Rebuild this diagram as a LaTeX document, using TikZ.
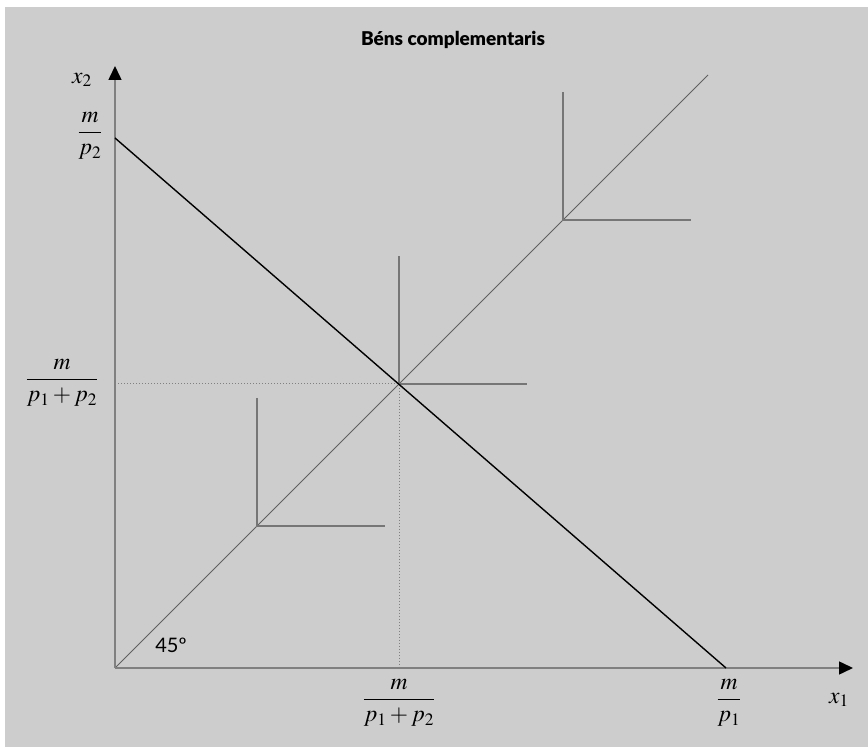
\documentclass[tikz,border=0pt]{standalone}
\usepackage{amsmath}
\usepackage{mathptmx}
\usepackage[no-math]{fontspec}
\setmainfont{Lato}
\newfontfamily\titolfont{Lato Black}
\usepackage{tikz}
\usetikzlibrary{arrows.meta}
\definecolor{fons}{RGB}{205,205,205}
\definecolor{eix}{RGB}{128,128,128}
\definecolor{corba}{RGB}{118,118,118}
\definecolor{diag}{RGB}{96,96,96}
\newcommand{\mida}{\fontsize{23.5}{28}\selectfont}

\begin{document}
\begin{tikzpicture}[x=1pt,y=1pt]
  % --- Fons ---
  \useasboundingbox (0,0) rectangle (868,747);
  \fill[fons] (5,0) rectangle (868,740);

  % --- Punts clau ---
  \coordinate (O)    at (115,79);
  \coordinate (Ytip) at (115,681);
  \coordinate (Xtip) at (853,79);
  \coordinate (A)    at (115,609);   % m/p2
  \coordinate (B)    at (726,79);    % m/p1
  \coordinate (E)    at (399,363);   % equilibri
  \coordinate (Ey)   at (115,363);
  \coordinate (Ex)   at (399,79);
  \coordinate (D)    at (708,672);   % final de la diagonal

  % --- Línies de punts cap als eixos ---
  \draw[eix,dotted,line width=1pt] (Ey) -- (E) -- (Ex);

  % --- Diagonal de 45 graus ---
  \draw[diag,line width=0.9pt] (O) -- (D);

  % --- Corbes d'indiferència (complementaris perfectes) ---
  \foreach \d/\nom in {142/c1,284/c2,448/c3}{%
    \coordinate (\nom) at ({115+\d},{79+\d});
    \draw[corba,line width=1.3pt] (\nom) ++(0,128) -- (\nom) -- ++(128,0);
  }

  % --- Eixos ---
  \draw[eix,line width=1.5pt,-{Triangle[length=14pt,width=13pt,color=black]}] (O) -- (Ytip);
  \draw[eix,line width=1.5pt,-{Triangle[length=14pt,width=13pt,color=black]}] (O) -- (Xtip);

  % --- Recta de balanç ---
  \draw[black,line width=1.4pt] (A) -- (B);

  % --- Etiquetes ---
  \node[font=\fontsize{19}{23}\selectfont\titolfont] (titol) at (453,707) {Béns complementaris};
  \node[font=\mida] (lx2) at (82,667) {$x_2$};
  \node[font=\mida] (lx1) at (839,47) {$x_1$};
  \node[font=\mida] (lA) at (90,611) {$\dfrac{m}{p_2}$};
  \node[font=\mida] (lEy) at (62,364) {$\dfrac{m}{p_1+p_2}$};
  \node[font=\mida] (lEx) at (399,44) {$\dfrac{m}{p_1+p_2}$};
  \node[font=\mida] (lB) at (729,44) {$\dfrac{m}{p_1}$};
  \node[font=\fontsize{20}{24}\selectfont] (angle) at (171,102) {45º};
\end{tikzpicture}
\end{document}
